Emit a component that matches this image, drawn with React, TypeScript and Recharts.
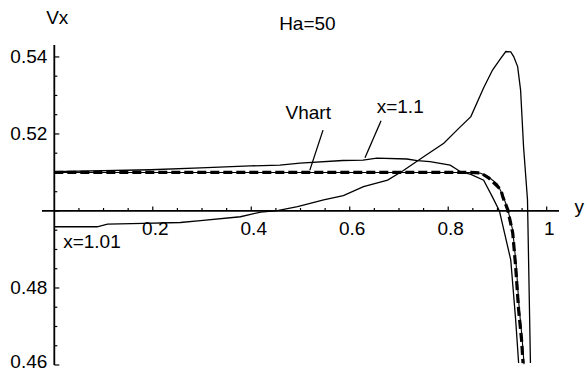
import React from "react";
import { LineChart, Line, XAxis, YAxis, ReferenceLine, ReferenceDot } from "recharts";

// curve x=1.01 (starts below 0.5, peaks near y=0.92)
const X101_Y = [0, 0.087, 0.108, 0.181, 0.256, 0.297, 0.378, 0.419, 0.453, 0.494, 0.547, 0.587, 0.628, 0.677, 0.709, 0.75, 0.791, 0.825, 0.846, 0.872, 0.89, 0.907, 0.917, 0.927, 0.933, 0.941, 0.947, 0.953, 0.961, 0.967];
const X101_V = [0.4959, 0.4959, 0.4966, 0.4968, 0.497, 0.4975, 0.4985, 0.4997, 0.5001, 0.5011, 0.5029, 0.504, 0.5063, 0.508, 0.5105, 0.5141, 0.5176, 0.5219, 0.5245, 0.532, 0.5366, 0.5397, 0.5414, 0.5413, 0.5401, 0.5375, 0.5314, 0.5167, 0.5029, 0.4605];

// curve x=1.1
const X11_Y = [0, 0.195, 0.297, 0.398, 0.458, 0.499, 0.586, 0.627, 0.655, 0.716, 0.737, 0.763, 0.804, 0.825, 0.846, 0.872, 0.89, 0.904, 0.927, 0.937, 0.943];
const X11_V = [0.5102, 0.5107, 0.5112, 0.5117, 0.5119, 0.5124, 0.5131, 0.5132, 0.5137, 0.5135, 0.5131, 0.5128, 0.5119, 0.5102, 0.5095, 0.508, 0.5036, 0.5, 0.4873, 0.4717, 0.4605];

// thin curve running under the Hartmann profile
const X2_Y = [0, 0.85, 0.866, 0.882, 0.9, 0.911, 0.921, 0.931, 0.938, 0.944, 0.95, 0.954];
const X2_V = [0.51, 0.51, 0.5098, 0.5088, 0.507, 0.504, 0.5005, 0.495, 0.486, 0.475, 0.467, 0.4602];

// Hartmann solution (dashed)
const VH_Y = [0, 0.846, 0.866, 0.882, 0.907, 0.911, 0.921, 0.931, 0.937, 0.943, 0.949, 0.952];
const VH_V = [0.51, 0.51, 0.5099, 0.5086, 0.5055, 0.5036, 0.5003, 0.4943, 0.4855, 0.4743, 0.4665, 0.4605];

const X_MINOR = [0.05, 0.1, 0.15, 0.25, 0.3, 0.35, 0.45, 0.5, 0.55, 0.65, 0.7, 0.75, 0.85, 0.9, 0.95];
const X_MAJOR = [0.2, 0.4, 0.6, 0.8, 1];
const X_LABELS = ["0.2", "0.4", "0.6", "0.8", "1"];
const Y_MINOR = [0.465, 0.47, 0.475, 0.485, 0.49, 0.495, 0.505, 0.51, 0.515, 0.525, 0.53, 0.535];
const Y_MAJOR = [0.46, 0.48, 0.5, 0.52, 0.54];
const Y_LABELS = ["0.46", "0.48", "", "0.52", "0.54"];

const W = 587;
const H = 373;
const MARGIN = { top: 45, right: 28, bottom: 7, left: 41 };
const X_DOMAIN: [number, number] = [-0.025, 1.025];
const Y_DOMAIN: [number, number] = [0.46, 0.5431];
const FONT = "'Liberation Sans', Arial, Helvetica, sans-serif";
const FS = 19;

// axes take 1px each (a 0px axis draws no ticks)
const plotLeft = MARGIN.left + 1;
const plotW = W - plotLeft - MARGIN.right;
const plotH = H - MARGIN.top - MARGIN.bottom - 1;
// pixel position of the crossing axes (x=0, v=0.5)
const X0 = plotLeft + ((0 - X_DOMAIN[0]) / (X_DOMAIN[1] - X_DOMAIN[0])) * plotW;
const Y0 = MARGIN.top + ((Y_DOMAIN[1] - 0.5) / (Y_DOMAIN[1] - Y_DOMAIN[0])) * plotH;

const toPts = (xs: number[], vs: number[]) => xs.map((x, i) => ({ x, v: vs[i] }));

const majorIdx = (list: number[], v: number) => list.findIndex((m) => Math.abs(m - v) < 1e-9);

const XTick = (props: any) => {
  const { x, payload } = props;
  const i = majorIdx(X_MAJOR, payload.value);
  const len = i >= 0 ? 4.5 : 3;
  return (
    <g>
      <line x1={x} x2={x} y1={Y0} y2={Y0 - len} stroke="#000" strokeWidth={1.2} />
      {i >= 0 && (
        <text x={x + 2.5} y={Y0 + 24} textAnchor="middle" fontSize={FS} fontFamily={FONT} fill="#000">
          {X_LABELS[i]}
        </text>
      )}
    </g>
  );
};

const YTick = (props: any) => {
  const { y, payload } = props;
  const i = majorIdx(Y_MAJOR, payload.value);
  const len = i >= 0 ? 5 : 3;
  return (
    <g>
      <line x1={X0} x2={X0 + len} y1={y} y2={y} stroke="#000" strokeWidth={1.2} />
      {i >= 0 && Y_LABELS[i] && (
        <text x={X0 - 7} y={Math.min(y + 6.5, H - 5)} textAnchor="end" fontSize={FS} fontFamily={FONT} fill="#000">
          {Y_LABELS[i]}
        </text>
      )}
    </g>
  );
};

const TextMark = (text: string, anchor = "middle") => (p: any) => (
  <text x={p.cx} y={p.cy} dy={6.5} textAnchor={anchor} fontSize={FS} fontFamily={FONT} fill="#000">
    {text}
  </text>
);

export default function App() {
  const thin = { stroke: "#000", strokeWidth: 1.3, dot: false, isAnimationActive: false, type: "linear" as const, dataKey: "v" };
  return (
    <div style={{ position: "absolute", left: 0, top: 0, width: W, height: H, background: "#fff" }}>
      <LineChart width={W} height={H} margin={MARGIN}>
        <XAxis
          dataKey="x"
          type="number"
          domain={X_DOMAIN}
          allowDataOverflow
          ticks={[...X_MINOR, ...X_MAJOR].sort((a, b) => a - b)}
          interval={0}
          height={1}
          axisLine={false}
          tickLine={false}
          tick={<XTick />}
        />
        <YAxis
          type="number"
          domain={Y_DOMAIN}
          allowDataOverflow
          ticks={[...Y_MINOR, ...Y_MAJOR].sort((a, b) => a - b)}
          interval={0}
          width={1}
          axisLine={false}
          tickLine={false}
          tick={<YTick />}
        />
        <ReferenceLine y={0.5} stroke="#000" strokeWidth={1.8} />
        <ReferenceLine segment={[{ x: 0, y: Y_DOMAIN[0] }, { x: 0, y: Y_DOMAIN[1] }]} stroke="#000" strokeWidth={1.8} />

        <Line data={toPts(X101_Y, X101_V)} {...thin} />
        <Line data={toPts(X11_Y, X11_V)} {...thin} />
        <Line data={toPts(X2_Y, X2_V)} {...thin} strokeWidth={1.1} />
        <Line data={toPts(VH_Y, VH_V)} {...thin} strokeWidth={3.2} strokeDasharray="9 4" />

        {/* label pointers */}
        <ReferenceLine segment={[{ x: 0.5457, y: 0.521 }, { x: 0.519, y: 0.5106 }]} stroke="#000" strokeWidth={1.3} />
        <ReferenceLine segment={[{ x: 0.6636, y: 0.5234 }, { x: 0.631, y: 0.5138 }]} stroke="#000" strokeWidth={1.3} />

        <ReferenceDot x={0.5157} y={0.5256} r={0} ifOverflow="visible" shape={TextMark("Vhart")} />
        <ReferenceDot x={0.7025} y={0.5271} r={0} ifOverflow="visible" shape={TextMark("x=1.1")} />
        <ReferenceDot x={0.018} y={0.4921} r={0} ifOverflow="visible" shape={TextMark("x=1.01", "start")} />
        <ReferenceDot x={0.514} y={0.5488} r={0} ifOverflow="visible" shape={TextMark("Ha=50")} />
        <ReferenceDot x={0.006} y={0.5503} r={0} ifOverflow="visible" shape={TextMark("Vx")} />
        <ReferenceDot x={1.066} y={0.5012} r={0} ifOverflow="visible" shape={TextMark("y")} />
      </LineChart>
    </div>
  );
}
